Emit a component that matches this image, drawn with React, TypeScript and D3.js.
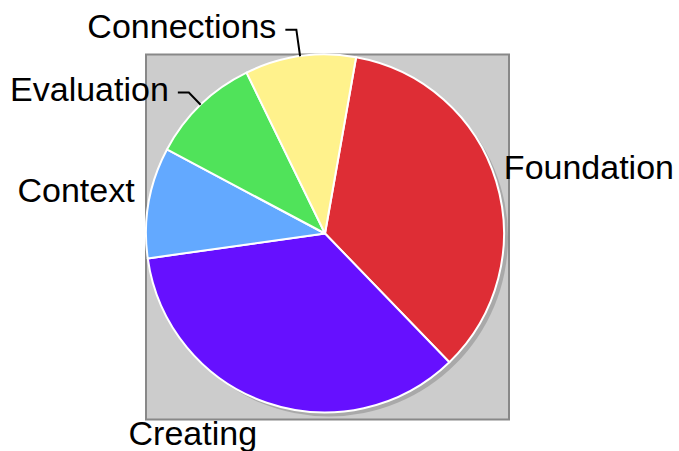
import React, { useEffect, useRef } from 'react';
import * as d3 from 'd3';

// slice data
const categories = ['Foundation', 'Creating', 'Context', 'Evaluation', 'Connections'];
const values = [35, 35, 10, 10, 10];
const colors = ['#de2d35', '#6610ff', '#63a9ff', '#50e35a', '#fff28c'];
// labels that get a leader line (label pushed out from the pie)
const leaderLabels = ['Evaluation', 'Connections'];

const W = 679;
const H = 451;

const App = () => {
  const ref = useRef<SVGSVGElement>(null);

  useEffect(() => {
    drawChart();
  }, []);

  const drawChart = () => {
    const svg = d3.select(ref.current);
    svg.selectAll('*').remove();

    const cx = 325;
    const cy = 233.5;
    const r = 179;
    const shadow = 4;

    // gray plot background
    svg.append('rect')
      .attr('x', cx - r)
      .attr('y', cy - r)
      .attr('width', 2 * r + shadow + 1)
      .attr('height', 2 * r + shadow + 3)
      .attr('fill', '#cccccc')
      .attr('stroke', '#888888')
      .attr('stroke-width', 2);

    const g = svg.append('g').attr('transform', `translate(${cx},${cy})`);

    // drop shadow
    g.append('circle')
      .attr('cx', shadow)
      .attr('cy', shadow)
      .attr('r', r)
      .attr('fill', '#a9a9a9');

    const start = (10 * Math.PI) / 180;
    const pie = d3.pie<number>()
      .sort(null)
      .startAngle(start)
      .endAngle(start + 2 * Math.PI);
    const arcs = pie(values);

    const arc = d3.arc<d3.PieArcDatum<number>>().innerRadius(0).outerRadius(r);

    g.selectAll('.slice')
      .data(arcs)
      .enter().append('path')
      .attr('class', 'slice')
      .attr('d', arc)
      .attr('fill', (d, i) => colors[i])
      .attr('stroke', '#ffffff')
      .attr('stroke-width', 2)
      .attr('stroke-linejoin', 'round');

    const pt = (a: number, rad: number) => [rad * Math.sin(a), -rad * Math.cos(a)];

    arcs.forEach((d, i) => {
      const name = categories[i];
      const mid = (d.startAngle + d.endAngle) / 2;
      const right = Math.sin(mid) > 0;
      if (leaderLabels.includes(name)) {
        const k = name === 'Connections' ? 1.15 : 1.095;
        const [x0, y0] = pt(mid, r);
        const [x1, y1] = pt(mid, r * k);
        const x2 = x1 + (right ? 11 : -11);
        g.append('path')
          .attr('d', d3.line()([[x0, y0], [x1, y1], [x2, y1]]))
          .attr('fill', 'none')
          .attr('stroke', '#000')
          .attr('stroke-width', 2);
        g.append('text')
          .attr('x', x2 + (right ? 9 : -9))
          .attr('y', y1 + 8)
          .attr('text-anchor', right ? 'start' : 'end')
          .text(name);
      } else {
        const [x, y] = pt(mid, r * 1.08);
        const bottom = Math.cos(mid) < -0.5;
        g.append('text')
          .attr('x', right ? x - 6 : bottom ? x - 5 : x)
          .attr('y', bottom ? y + 29 : y + 2)
          .attr('text-anchor', right ? 'start' : 'end')
          .text(name);
      }
    });

    g.selectAll('text')
      .attr('font-family', '"Liberation Sans", Arial, sans-serif')
      .attr('font-size', 34)
      .attr('fill', '#000');
  };

  return (
    <svg
      ref={ref}
      width={W}
      height={H}
      style={{ position: 'absolute', left: 0, top: 0, display: 'block', background: '#fff' }}
    />
  );
};

export default App;
